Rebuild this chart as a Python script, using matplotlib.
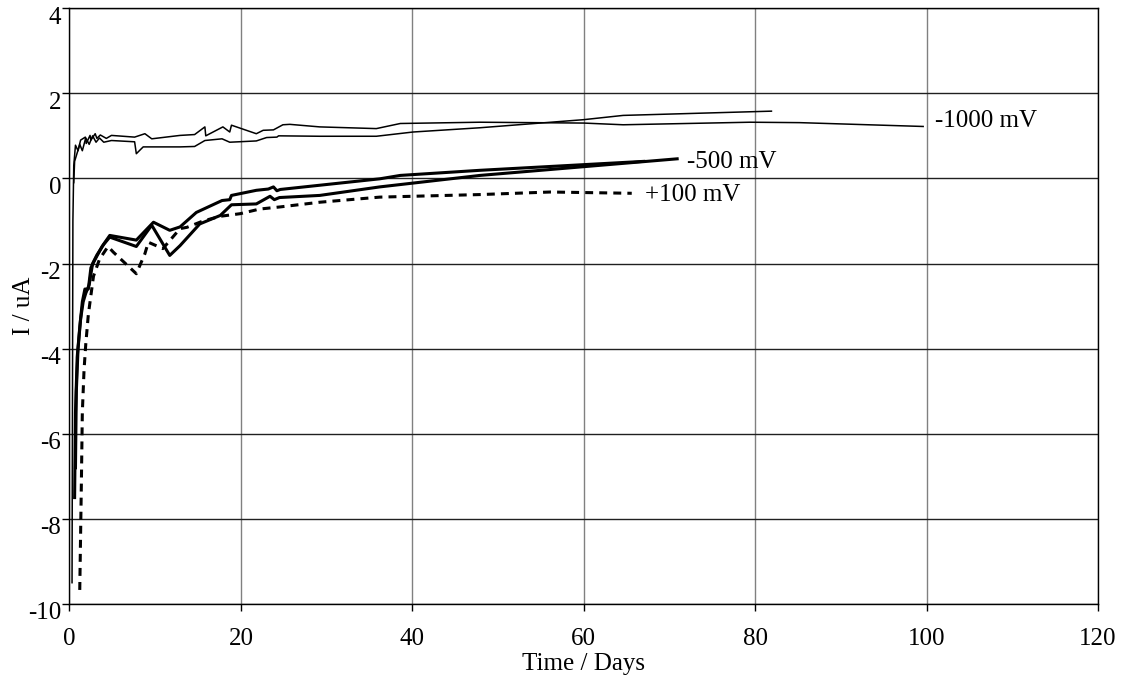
import matplotlib
matplotlib.use("Agg")
import matplotlib.pyplot as plt
from matplotlib.transforms import ScaledTranslation

# -1000 mV, two runs (thin lines)
neg1000_a_t = [0.3, 0.4, 0.5, 0.7, 1.0, 1.3, 1.85, 1.95, 2.4, 2.5, 3.0, 3.2, 3.6, 4.3, 4.9,
               7.6, 8.8, 9.6, 12.9, 14.6, 15.8, 15.9, 17.9, 18.7, 18.9, 21.8, 22.6, 23.8,
               24.9, 25.7, 29.2, 35.8, 38.6, 47.9, 60.0, 64.6, 79.4, 85.2, 99.6]
neg1000_a_i = [-9.5, -1.0, 0.3, 0.78, 0.65, 0.9, 0.97, 0.82, 1.01, 0.9, 1.05, 0.94, 1.02, 0.94, 1.01,
               0.97, 1.05, 0.93, 1.01, 1.03, 1.21, 1.0, 1.21, 1.09, 1.25, 1.05, 1.13, 1.14,
               1.26, 1.27, 1.21, 1.17, 1.29, 1.32, 1.3, 1.26, 1.32, 1.31, 1.22]
neg1000_b_t = [0.5, 0.6, 0.9, 1.2, 1.5, 1.9, 2.3, 2.7, 3.1, 3.5, 4.0, 4.9, 7.6, 7.8, 8.6, 10.0,
               12.9, 14.6, 15.8, 17.8, 18.7, 21.8, 23.0, 24.2, 24.4, 29.2, 35.8, 40.1, 47.9,
               60.0, 64.6, 81.9]
neg1000_b_i = [-0.1, 0.4, 0.6, 0.8, 0.65, 0.95, 0.8, 1.0, 0.85, 0.95, 0.85, 0.89, 0.86, 0.58, 0.74, 0.74,
               0.74, 0.75, 0.89, 0.93, 0.85, 0.88, 0.96, 0.97, 1.0, 0.99, 0.99, 1.09, 1.19,
               1.38, 1.48, 1.58]

# -500 mV, two runs (thick lines)
neg500_a_t = [0.6, 0.7, 0.9, 1.2, 1.5, 1.8, 2.2, 2.5, 3.0, 3.8, 4.7, 7.8, 9.8, 11.7, 12.9, 14.8,
              17.8, 18.7, 18.9, 21.8, 23.2, 23.8, 24.2, 24.6, 36.2, 38.6, 47.9, 67.0]
neg500_a_i = [-7.5, -5.5, -4.2, -3.5, -2.9, -2.6, -2.6, -2.1, -1.9, -1.6, -1.34, -1.45, -1.03, -1.22, -1.14, -0.8,
              -0.52, -0.5, -0.4, -0.28, -0.25, -0.2, -0.29, -0.26, -0.01, 0.07, 0.19, 0.4]
neg500_b_t = [0.7, 0.8, 1.0, 1.3, 1.6, 1.9, 2.3, 2.7, 3.2, 4.0, 4.7, 7.8, 9.6, 11.7, 12.9, 15.2,
              17.6, 18.9, 21.8, 23.4, 23.9, 24.5, 29.2, 36.2, 47.9, 70.9]
neg500_b_i = [-6.8, -5.0, -4.0, -3.3, -2.9, -2.7, -2.5, -2.0, -1.8, -1.55, -1.38, -1.6, -1.1, -1.81, -1.58, -1.07,
              -0.87, -0.62, -0.6, -0.42, -0.5, -0.45, -0.4, -0.2, 0.07, 0.46]

# +100 mV (thick dashed)
pos100_t = [1.2, 1.4, 1.5, 1.7, 1.9, 2.2, 2.8, 3.5, 4.5, 5.1, 7.8, 8.8, 9.2, 10.9, 12.9, 13.7,
            15.6, 17.6, 19.9, 22.2, 24.6, 29.2, 36.2, 47.9, 56.1, 65.6]
pos100_i = [-9.67, -7.0, -5.5, -4.5, -3.9, -3.2, -2.3, -1.9, -1.6, -1.73, -2.24, -1.77, -1.5, -1.65, -1.18, -1.15,
            -1.0, -0.89, -0.83, -0.72, -0.67, -0.56, -0.44, -0.38, -0.32, -0.35]

labels = ["-1000 mV", "-500 mV", "+100 mV"]
label_pos = [(101.0, 1.36), (72.0, 0.38), (67.2, -0.4)]

plt.rcParams["font.family"] = ["Liberation Serif", "DejaVu Serif"]
plt.rcParams["font.size"] = 18
plt.rcParams["axes.unicode_minus"] = False

fig = plt.figure(figsize=(11.37, 6.8), dpi=100)
ax = fig.add_axes([0.0611, 0.1118, 0.9046, 0.8762])

ax.plot(neg1000_a_t, neg1000_a_i, color="black", lw=1.1)
ax.plot(neg1000_b_t, neg1000_b_i, color="black", lw=1.1)
ax.plot(neg500_a_t, neg500_a_i, color="black", lw=2.2)
ax.plot(neg500_b_t, neg500_b_i, color="black", lw=2.2)
ax.plot(pos100_t, pos100_i, color="black", lw=2.2, linestyle=(0, (2.6, 2.0)))

for text, (x, y) in zip(labels, label_pos):
    ax.text(x, y, text, ha="left", va="center", fontsize=18)

ax.set_xlim(0, 120)
ax.set_ylim(-10, 4)
ax.set_xticks(range(0, 121, 20))
ax.set_yticks(range(-10, 5, 2))
ax.xaxis.grid(True, color="#808080", lw=1.0)
ax.yaxis.grid(True, color="#202020", lw=1.0)
ax.set_axisbelow(True)
for s in ax.spines.values():
    s.set_color("black")
    s.set_linewidth(1.0)
ax.tick_params(direction="out", length=5, width=1, colors="black")
ax.tick_params(axis="x", pad=12)
ax.tick_params(axis="y", pad=1)
# Excel-style: y tick labels sit a little below their grid line
shift = ScaledTranslation(0, -7 / 100, fig.dpi_scale_trans)
for lbl in ax.get_yticklabels():
    lbl.set_transform(lbl.get_transform() + shift)

ax.set_xlabel("Time / Days")
ax.set_ylabel("I / uA")
ax.xaxis.set_label_coords(0.5, -0.082)
ax.yaxis.set_label_coords(-0.0335, 0.5)

fig.savefig("out.png", dpi=100)
